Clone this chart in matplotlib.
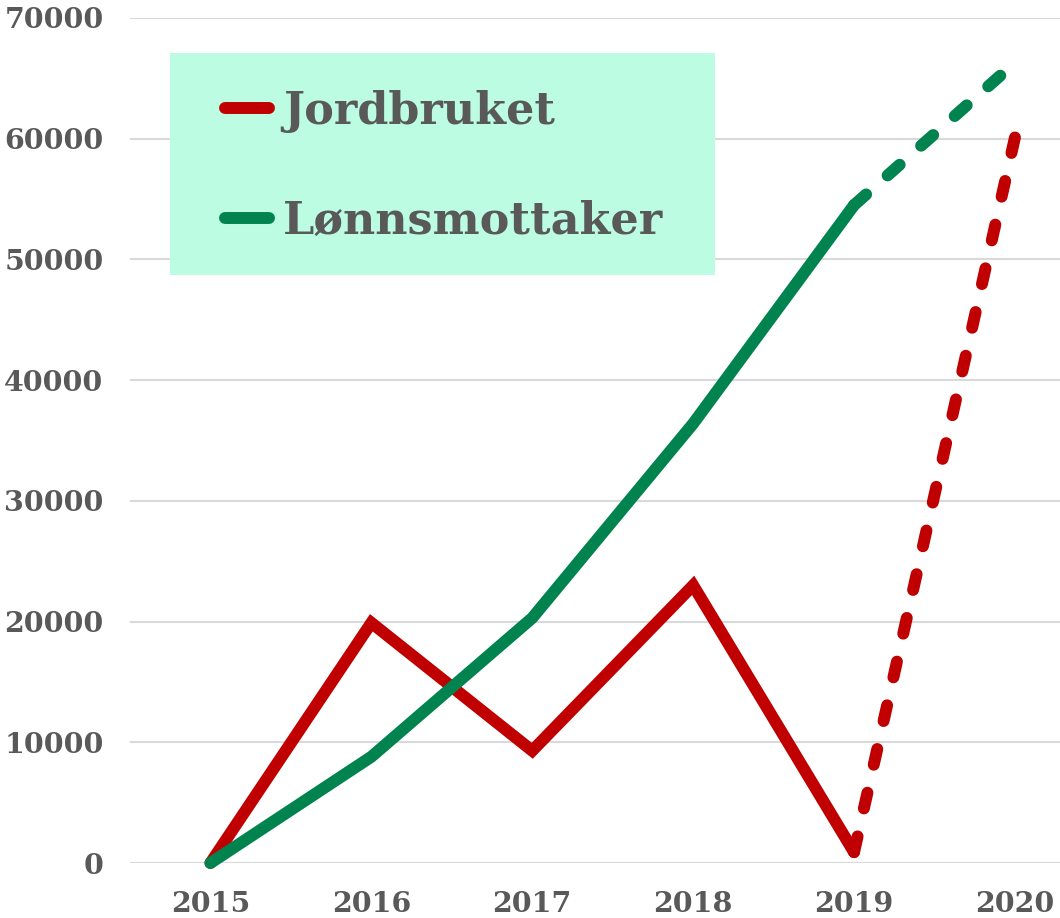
import matplotlib.pyplot as plt
from matplotlib.patches import Rectangle

years = [2015, 2016, 2017, 2018, 2019, 2020]
jordbruket = [0, 19900, 9300, 23000, 900, 60100]
lonnsmottaker = [0, 8800, 20300, 36400, 54500, 66300]
yticks = [0, 10000, 20000, 30000, 40000, 50000, 60000, 70000]

red = '#C00000'
green = '#00834F'
grey = '#595959'

W, H = 1060, 918
fig = plt.figure(figsize=(W/100, H/100), dpi=100)
ax = fig.add_axes([130/W, 1 - 863/H, 930/W, (863 - 18)/H])

lw = 8.6
dash = (1.35, 2.4)
# solid part up to 2019, dashed forecast to 2020
ax.plot(years[:5], jordbruket[:5], color=red, lw=lw, solid_capstyle='round',
        solid_joinstyle='miter', clip_on=False, label='Jordbruket', zorder=3)
ax.plot(years[4:], jordbruket[4:], color=red, lw=lw, dashes=dash,
        dash_capstyle='round', clip_on=False, zorder=3)
ax.plot(years[:5], lonnsmottaker[:5], color=green, lw=lw, solid_capstyle='round',
        solid_joinstyle='round', clip_on=False, label='Lønnsmottaker', zorder=3)
ax.plot(years[4:], lonnsmottaker[4:], color=green, lw=lw, dashes=dash,
        dash_capstyle='round', clip_on=False, zorder=3)

ax.set_xlim(2014.5, 2020.28)
ax.set_ylim(0, 70000)
ax.set_xticks(years)
ax.set_yticks(yticks)
ax.set_xticklabels([str(y) for y in years])
ax.set_yticklabels([str(v) for v in yticks])
for lab in ax.get_xticklabels() + ax.get_yticklabels():
    lab.set_fontfamily('DejaVu Serif')
    lab.set_fontweight('bold')
    lab.set_fontsize(20.5)
    lab.set_color(grey)
ax.tick_params(axis='both', length=0)
ax.tick_params(axis='y', pad=19)
ax.tick_params(axis='x', pad=20)

ax.grid(axis='y', color='#D9D9D9', lw=1.5)
ax.set_axisbelow(True)
for s in ax.spines.values():
    s.set_visible(False)

# legend background box
ax.add_patch(Rectangle((170/W, 1 - 275/H), 545/W, 222/H,
                       transform=fig.transFigure, facecolor='#BBFCE3',
                       edgecolor='none', zorder=2, clip_on=False))

leg = ax.legend(loc='upper left', bbox_to_anchor=(225/W, 1 - 90/H),
                bbox_transform=fig.transFigure,
                prop={'family': 'DejaVu Serif', 'weight': 'bold', 'size': 32},
                labelcolor=grey, frameon=False,
                handlelength=1.0, handletextpad=0.3, labelspacing=1.5,
                borderpad=0, borderaxespad=0)
leg.set_zorder(5)
for h in leg.get_lines():
    h.set_solid_capstyle('round')

fig.savefig('out.png', dpi=100)
